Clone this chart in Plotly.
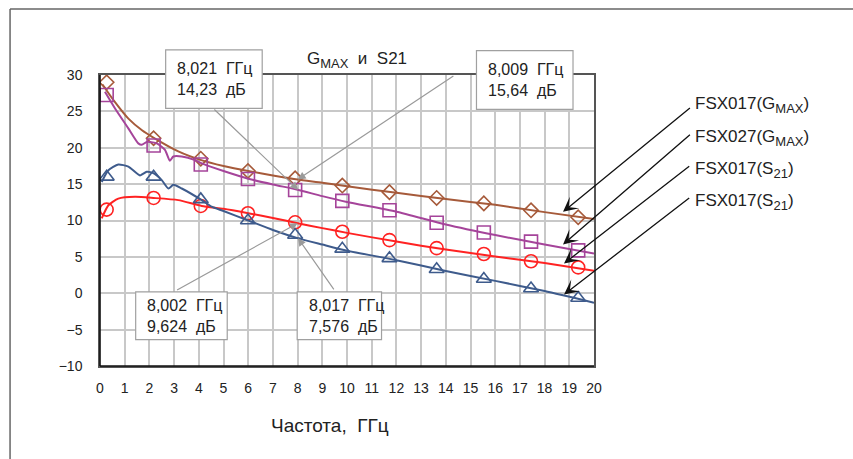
import plotly.graph_objects as go

# ---------------- data ----------------
marker_freq = [0.27, 2.17, 4.08, 5.99, 7.90, 9.81, 11.72, 13.63, 15.54, 17.45, 19.36]

gmax017_x = [0.1, 0.6, 1.15, 1.7, 2.16, 3.17, 4.1, 5, 6, 7, 8, 9, 10, 12, 14, 16, 18, 20]
gmax017_y = [28.7, 26.3, 24.0, 22.4, 21.4, 19.5, 18.3, 17.5, 16.8, 16.2, 15.64, 15.2, 14.7, 13.8, 12.95, 12.15, 11.15, 10.2]
gmax017_m = [29.0, 21.3, 18.5, 16.8, 15.8, 14.8, 13.9, 13.1, 12.35, 11.4, 10.45]

gmax027_x = [0.2, 0.61, 1.14, 1.55, 1.69, 1.89, 2.02, 2.3, 2.63, 2.83, 2.97, 3.31, 3.85, 4.12, 5, 6, 7, 8, 9, 10, 12, 14, 16, 18, 20]
gmax027_y = [27.7, 25.4, 22.7, 20.6, 20.4, 20.8, 20.8, 20.6, 19.7, 18.2, 18.8, 18.8, 18.3, 17.85, 16.8, 15.75, 14.95, 14.23, 13.35, 12.55, 11.2, 9.45, 8.0, 6.7, 5.45]
gmax027_m = [27.25, 20.3, 17.7, 15.7, 14.2, 12.7, 11.4, 9.7, 8.35, 7.1, 5.9]

s21a_x = [0.07, 0.34, 0.74, 1.42, 2.16, 3.17, 4.12, 5, 6, 7, 8, 9, 10, 12, 14, 16, 18, 20]
s21a_y = [10.3, 12.1, 13.0, 13.25, 13.1, 12.8, 12.0, 11.6, 11.0, 10.35, 9.62, 8.95, 8.3, 7.1, 6.0, 5.05, 4.15, 3.1]
s21a_m = [11.5, 13.1, 12.0, 11.0, 9.75, 8.45, 7.3, 6.2, 5.4, 4.4, 3.55]

s21b_x = [0.07, 0.34, 0.74, 1.15, 1.62, 1.89, 2.16, 2.5, 2.77, 2.97, 3.31, 4.12, 4.52, 5, 6, 7, 8, 9, 10, 12, 14, 16, 18, 20]
s21b_y = [15.3, 16.9, 17.7, 17.4, 16.2, 16.7, 16.5, 15.55, 14.4, 14.9, 14.4, 12.8, 11.9, 11.3, 10.0, 8.7, 7.58, 6.7, 5.85, 4.55, 3.05, 1.7, 0.3, -1.3]
s21b_m = [16.0, 16.0, 12.9, 10.0, 8.0, 6.1, 4.8, 3.3, 1.95, 0.65, -0.65]

series_main = ["FSX017(G", "FSX027(G", "FSX017(S", "FSX017(S"]
series_sub = ["MAX", "MAX", "21", "21"]

callout_freq = [8.021, 8.009, 8.002, 8.017]
callout_db = [14.23, 15.64, 9.624, 7.576]

x_ticks = list(range(0, 21))
y_ticks = [-10, -5, 0, 5, 10, 15, 20, 25, 30]

# ---------------- layout helpers ----------------
W, H = 853, 459
L, R, T, B = 100, 594.3, 75, 365.7
def px(x):
    return (x - L) / (R - L)
def py(y):
    return (B - y) / (B - T)

FONT = "Liberation Sans, Arial, sans-serif"
TXT = "#222222"

colors = ["#A65A3A", "#A5449A", "#FF2222", "#3E5B8C"]
symbols = ["diamond-open", "square-open", "circle-open", "triangle-up-open"]
msizes = [11, 13, 13, 13]

lines = [(gmax017_x, gmax017_y, gmax017_m), (gmax027_x, gmax027_y, gmax027_m),
         (s21a_x, s21a_y, s21a_m), (s21b_x, s21b_y, s21b_m)]

def sub(main, s, size):
    return main + "<sub><span style='font-size:%dpx'>%s</span></sub>)" % (size, s)

series_names = [sub(m, s, 13) for m, s in zip(series_main, series_sub)]

fig = go.Figure()
for (lx, ly, my), c, s, ms, nm in zip(lines, colors, symbols, msizes, series_names):
    fig.add_trace(go.Scatter(x=lx, y=ly, mode="lines", line=dict(color=c, width=2, shape="spline", smoothing=0.6),
                             showlegend=False, hoverinfo="skip", name=nm))
    fig.add_trace(go.Scatter(x=marker_freq, y=my, mode="markers",
                             marker=dict(symbol=s, size=ms, color=c, line=dict(width=1.6, color=c)),
                             showlegend=False, name=nm))

fig.update_layout(
    width=W, height=H,
    margin=dict(l=L, r=W - R, t=T, b=H - B, pad=0),
    paper_bgcolor="white", plot_bgcolor="white",
    font=dict(family=FONT, color=TXT, size=14),
    xaxis=dict(range=[0, 20], tickvals=x_ticks, ticktext=[str(v) for v in x_ticks],
               showgrid=True, gridcolor="#C8C8C8", gridwidth=1.5,
               showline=True, linecolor="#555555", linewidth=1.5, mirror=True,
               ticks="", ticklabelstandoff=8, tickfont=dict(size=14, color=TXT), zeroline=False),
    yaxis=dict(range=[-10, 30], tickvals=y_ticks, ticktext=[("\u2212" + str(-v)) if v < 0 else str(v) for v in y_ticks],
               showgrid=True, gridcolor="#C8C8C8", gridwidth=1.5,
               showline=True, linecolor="#555555", linewidth=1.5, mirror=True,
               ticks="", ticklabelstandoff=13, tickfont=dict(size=14, color=TXT), zeroline=False),
)

shapes = []
# darker left / bottom plot edges
shapes.append(dict(type="line", xref="paper", yref="paper", x0=0, y0=0, x1=0, y1=1,
                   line=dict(color="#111111", width=1.6)))
shapes.append(dict(type="line", xref="paper", yref="paper", x0=0, y0=0, x1=1, y1=0,
                   line=dict(color="#111111", width=1.6)))
# outer frame (left and top edges)
shapes.append(dict(type="line", xref="paper", yref="paper", x0=px(10), y0=py(470), x1=px(10), y1=py(9),
                   line=dict(color="#666666", width=1.5)))
shapes.append(dict(type="line", xref="paper", yref="paper", x0=px(10), y0=py(9), x1=px(860), y1=py(9),
                   line=dict(color="#666666", width=1.5)))

annotations = []

# callout boxes (pixel boxes) and leader arrows
boxes = [(165.7, 50, 262.3, 108.3), (476.7, 50.7, 573.3, 109.3), (135.7, 291.7, 227.3, 339.3), (297.3, 291.7, 381.7, 339.3)]
tails = [(213, 108), (455, 75), (175.7, 290.7), (335, 290.7)]
for f, d, (x0, y0, x1, y1), (tx, ty) in zip(callout_freq, callout_db, boxes, tails):
    tipx = L + f / 20 * (R - L)
    tipy = T + (30 - d) / 40 * (B - T)
    annotations.append(dict(x=f, y=d, xref="x", yref="y", text="", showarrow=True,
                            ax=tx - tipx, ay=ty - tipy, axref="pixel", ayref="pixel",
                            arrowhead=2, arrowsize=1.3, arrowwidth=1.2, arrowcolor="#9A9A9A", standoff=0))
    shapes.append(dict(type="rect", xref="paper", yref="paper", x0=px(x0), y0=py(y1), x1=px(x1), y1=py(y0),
                       line=dict(color="#A0A0A0", width=1.2), fillcolor="white", layer="above"))
    ftxt = ("%.3f" % f).replace(".", ",")
    dtxt = ("%.3f" % d if d < 10 else "%.2f" % d).replace(".", ",")
    annotations.append(dict(x=px(x0 + 9.5), y=py((y0 + y1) / 2), xref="paper", yref="paper",
                            xanchor="left", yanchor="middle", align="left", showarrow=False,
                            text=ftxt + "\u00a0\u00a0ГГц<br>" + dtxt + "\u00a0\u00a0дБ",
                            font=dict(size=16, color=TXT, family=FONT)))

# right-hand labels with black arrows
label_y = [105, 138, 170, 202]
arrow_tails = [(691.7, 106.7), (691.7, 133.3), (691, 165), (691, 196.7)]
arrow_tips = [(563.3, 211.7), (563.3, 244.3), (564.3, 263.3), (564.3, 294.3)]
for nm, ly, (tx, ty), (hx, hy) in zip(series_names, label_y, arrow_tails, arrow_tips):
    annotations.append(dict(x=px(693), y=py(ly), xref="paper", yref="paper", xanchor="left", yanchor="middle",
                            text=nm, showarrow=False, font=dict(size=17, color=TXT, family=FONT)))
    annotations.append(dict(x=px(hx), y=py(hy), xref="paper", yref="paper", text="", showarrow=True,
                            ax=tx - hx, ay=ty - hy, axref="pixel", ayref="pixel",
                            arrowhead=3, arrowsize=1.9, arrowwidth=1.3, arrowcolor="#111111", standoff=0))

# title and x-axis title
annotations.append(dict(x=px(357), y=py(60), xref="paper", yref="paper", xanchor="center", yanchor="middle",
                        text="G<sub><span style='font-size:13px'>MAX</span></sub>\u00a0\u00a0и\u00a0\u00a0S21",
                        showarrow=False, font=dict(size=17, color=TXT, family=FONT)))
annotations.append(dict(x=px(330), y=py(425), xref="paper", yref="paper", xanchor="center", yanchor="middle",
                        text="Частота,\u00a0\u00a0ГГц", showarrow=False,
                        font=dict(size=19, color=TXT, family=FONT)))

fig.update_layout(shapes=shapes, annotations=annotations)
fig.write_html("out.html", config={"displayModeBar": False},
               post_script="document.body.style.margin='0';")
